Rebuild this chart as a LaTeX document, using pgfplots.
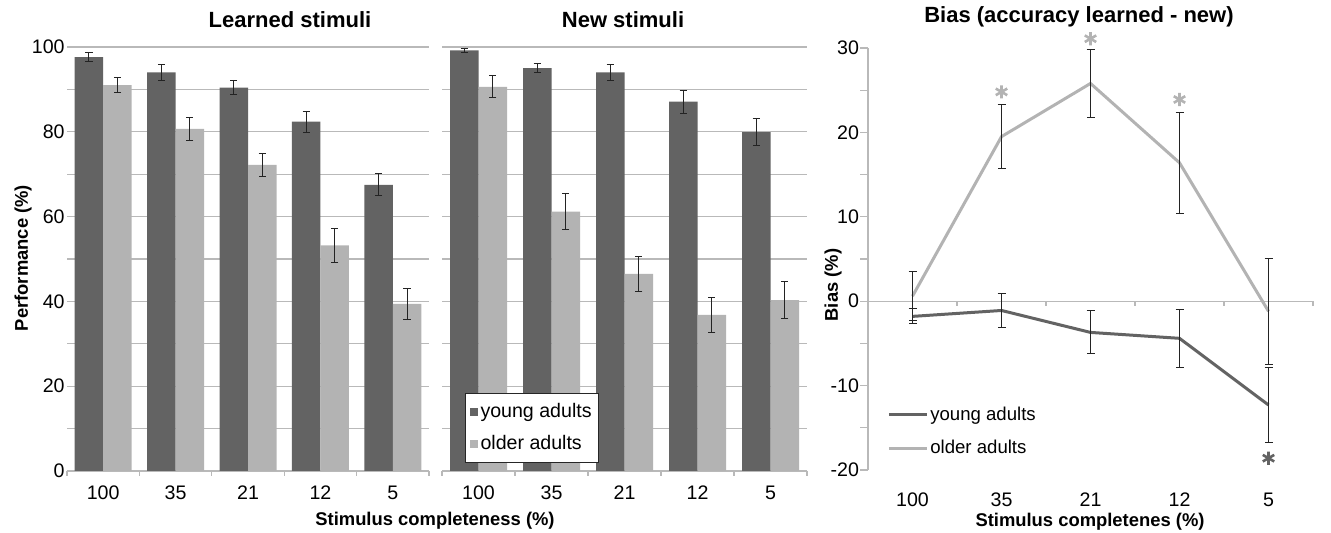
\documentclass[border=0pt]{standalone}
\usepackage{pgfplots}
\pgfplotsset{compat=1.18}
\usepackage{fontspec}
\setmainfont{Liberation Sans}

\definecolor{youngColor}{RGB}{99,99,99}
\definecolor{olderColor}{RGB}{179,179,179}
\definecolor{gridColor}{RGB}{185,185,185}
\definecolor{errColor}{RGB}{35,35,35}

\newcommand{\tickfont}{\fontsize{9.8}{11}\selectfont}
\newcommand{\titlefont}{\bfseries\fontsize{11}{13}\selectfont}
\newcommand{\labelfont}{\bfseries\fontsize{9.2}{11}\selectfont}

% shared look of the two bar panels (1 px of the reference = 0.5pt)
\pgfplotsset{
  barpanel/.style={
    scale only axis, anchor=south west,
    width=181pt, height=212pt,
    ybar=0pt, bar width=14.25pt,
    xmin=-0.5, xmax=4.5, ymin=0, ymax=100,
    xtick={0,...,4}, xticklabels={100,35,21,12,5},
    minor xtick={-0.5,0.5,...,4.5},
    ytick={0,10,...,100},
    ymajorgrids, major grid style={gridColor, line width=0.6pt},
    axis x line*=bottom, axis y line*=left,
    x axis line style={gridColor, line width=0.6pt},
    y axis line style={draw=none},
    tick align=outside, major tick length=0pt, minor tick length=2.5pt,
    minor tick style={gridColor, line width=0.6pt},
    tick label style={font=\tickfont},
    /pgf/number format/assume math mode=true,
    xticklabel style={yshift=-4pt},
    yticklabel style={inner sep=1pt},
    error bars/y dir=both, error bars/y explicit,
    error bars/error bar style={errColor, line width=0.5pt},
    error bars/error mark options={errColor, rotate=90, mark size=1.8pt, line width=0.5pt},
  },
}

\begin{document}
\begin{tikzpicture}
\path[use as bounding box] (0,0) rectangle (665.5pt,266.5pt);

% ===== Learned stimuli =====
\begin{axis}[barpanel, at={(33.5pt,31pt)},
    yticklabels={0,,20,,40,,60,,80,,100}]
\addplot[fill=youngColor, draw=none] coordinates
  {(0,97.6) +- (0,1.0) (1,94.0) +- (0,1.8) (2,90.4) +- (0,1.6) (3,82.4) +- (0,2.5) (4,67.5) +- (0,2.6)};
\addplot[fill=olderColor, draw=none] coordinates
  {(0,91.0) +- (0,1.7) (1,80.7) +- (0,2.7) (2,72.2) +- (0,2.7) (3,53.2) +- (0,4.1) (4,39.4) +- (0,3.6)};
\end{axis}

% ===== New stimuli (carries the bar legend) =====
\begin{axis}[barpanel, at={(221pt,31pt)}, width=182.5pt,
    yticklabels={},
    legend style={at={(0.063,0.184)}, anchor=north west, draw=black!85, line width=0.5pt,
      fill=white, font=\fontsize{9.8}{11}\selectfont, inner xsep=2pt, inner ysep=3pt,
      row sep=3.5pt, nodes={inner xsep=1.5pt}},
    legend cell align=left,
    legend image code/.code={\fill[#1] (0pt,-2pt) rectangle (4pt,2pt);}]
\addplot[fill=youngColor, draw=none] coordinates
  {(0,99.2) +- (0,0.4) (1,95.0) +- (0,1.0) (2,94.0) +- (0,1.9) (3,87.1) +- (0,2.7) (4,79.9) +- (0,3.2)};
\addlegendentry{young adults}
\addplot[fill=olderColor, draw=none] coordinates
  {(0,90.6) +- (0,2.6) (1,61.2) +- (0,4.3) (2,46.5) +- (0,4.2) (3,36.8) +- (0,4.2) (4,40.3) +- (0,4.4)};
\addlegendentry{older adults}
\end{axis}

% ===== Bias panel =====
\begin{axis}[scale only axis, anchor=south west, at={(434pt,31.5pt)},
    width=222.5pt, height=211pt, clip=false,
    xmin=-0.5, xmax=4.5, ymin=-20, ymax=30,
    xtick={0,...,4}, xticklabels={100,35,21,12,5},
    ytick={-20,-15,...,30}, yticklabels={-20,,-10,,0,,10,,20,,30},
    axis x line*=bottom, axis y line*=left,
    x axis line style={draw=none},
    y axis line style={gridColor, line width=0.6pt},
    tick align=outside, major tick length=3.8pt,
    xtick style={draw=none}, ytick style={gridColor, line width=0.6pt},
    tick label style={font=\tickfont},
    /pgf/number format/assume math mode=true,
    xticklabel style={yshift=-4pt},
    yticklabel style={inner sep=0.5pt},
    legend style={at={(0.029,0.17)}, anchor=north west, draw=none, fill=none,
      font=\fontsize{9.3}{11}\selectfont, row sep=4.5pt, nodes={inner xsep=1pt}},
    legend cell align=left,
    legend image code/.code={\draw[#1, line width=1.5pt] (0pt,0pt) -- (19pt,0pt);},
    error bars/y dir=both, error bars/y explicit,
    error bars/error bar style={errColor, line width=0.5pt},
    error bars/error mark options={errColor, rotate=90, mark size=2pt, line width=0.5pt},
  ]
\draw[gridColor, line width=0.6pt] (axis cs:-0.5,0) -- (axis cs:4.5,0);
\pgfplotsinvokeforeach{0.5,1.5,2.5,3.5,4.5}{
  \draw[gridColor, line width=0.6pt] (axis cs:#1,0) -- ++(0pt,-2.5pt);
}
\addplot[youngColor, line width=1.5pt, mark=none] coordinates
  {(0,-1.8) +- (0,0.9) (1,-1.1) +- (0,2.0) (2,-3.7) +- (0,2.55) (3,-4.4) +- (0,3.45) (4,-12.3) +- (0,4.4)};
\addlegendentry{young adults}
\addplot[olderColor, line width=1.5pt, mark=none] coordinates
  {(0,0.6) +- (0,2.9) (1,19.5) +- (0,3.8) (2,25.8) +- (0,4.0) (3,16.4) +- (0,6.0) (4,-1.2) +- (0,6.3)};
\addlegendentry{older adults}
% significance stars
\addplot[only marks, mark=asterisk, mark size=3.3pt, olderColor, line width=1.3pt, forget plot,
    error bars/y dir=none]
  coordinates {(1,24.8) (2,31.1) (3,23.9)};
\addplot[only marks, mark=asterisk, mark size=3.3pt, youngColor, line width=1.3pt, forget plot,
    error bars/y dir=none]
  coordinates {(4,-18.6)};
\end{axis}

% ===== titles and axis labels =====
\node[anchor=base, font=\titlefont] at (145pt,252.5pt) {Learned stimuli};
\node[anchor=base, font=\titlefont] at (311.5pt,252.5pt) {New stimuli};
\node[anchor=base, font=\titlefont] at (539.5pt,255pt) {Bias (accuracy learned - new)};
\node[anchor=base, font=\labelfont] at (217.5pt,3.5pt) {Stimulus completeness (\%)};
\node[anchor=base, font=\labelfont] at (545pt,3pt) {Stimulus completenes (\%)};
\node[rotate=90, font=\labelfont] at (11.5pt,137.5pt) {Performance (\%)};
\node[rotate=90, font=\labelfont] at (416.5pt,124pt) {Bias (\%)};
\end{tikzpicture}
\end{document}
